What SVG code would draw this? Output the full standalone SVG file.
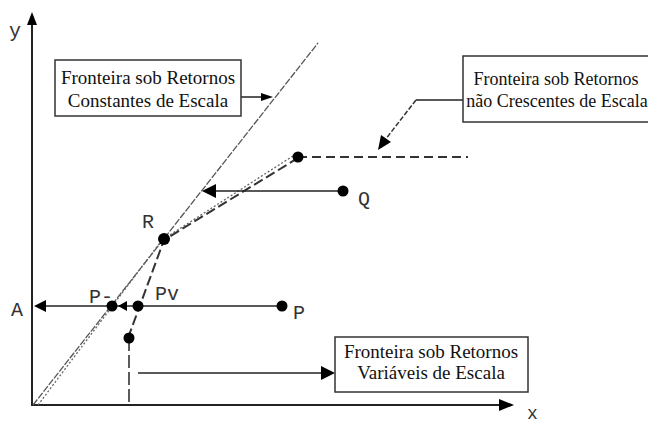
<svg xmlns="http://www.w3.org/2000/svg" width="648" height="425" viewBox="0 0 648 425">
<style>
.box{fill:#fff;stroke:#333;stroke-width:1.5}
.bt{font-family:"Liberation Serif","Times New Roman",serif;font-size:19px;fill:#111;text-anchor:middle}
.lb{font-family:"Liberation Mono","Courier New",monospace;font-size:20px;fill:#333}
.ax{stroke:#222;stroke-width:2;fill:none}
.ar{stroke:#222;stroke-width:1.5;fill:none}
.dot{fill:#000}
.tri{fill:#000}
</style>
<rect width="648" height="425" fill="#fff"/>
<g id="axes">
<line class="ax" x1="32" y1="406" x2="32" y2="22"/>
<polygon class="tri" points="32,12 27,25 37,25"/>
<line class="ax" x1="31" y1="405" x2="502" y2="405"/>
<polygon class="tri" points="514,405 499,399 499,411"/>
<text class="lb" x="9" y="37">y</text>
<text class="lb" x="527" y="419" style="font-size:18px">x</text>
</g>
<g id="connectors">
<line x1="33" y1="405" x2="318" y2="43" stroke="#555" stroke-width="1.3" stroke-dasharray="7 1.5"/>
<polyline points="38,405 162,240 296,154" fill="none" stroke="#666" stroke-width="1.3" stroke-dasharray="2 2"/>
<polyline points="128,338 164,240 298,158" fill="none" stroke="#333" stroke-width="2" stroke-dasharray="10 4"/>
<line x1="298" y1="157" x2="468" y2="157" stroke="#333" stroke-width="2" stroke-dasharray="9 5"/>
<line x1="129" y1="338" x2="129" y2="405" stroke="#333" stroke-width="1.6" stroke-dasharray="13 4"/>
<line class="ar" x1="343" y1="191" x2="214" y2="191"/>
<polygon class="tri" points="202,191 216,184 216,198"/>
<line class="ar" x1="282" y1="306" x2="44" y2="306"/>
<polygon class="tri" points="34,306 46,300 46,312"/>
<polygon class="tri" points="118,306 127,301 127,311"/>
<line class="ar" x1="241" y1="97" x2="262" y2="97"/>
<polygon class="tri" points="273,97 261,93 261,101"/>
<line class="ar" x1="463" y1="100" x2="416" y2="100"/>
<line x1="416" y1="100" x2="385" y2="140" stroke="#333" stroke-width="1.5" stroke-dasharray="5 2"/>
<polygon class="tri" points="378,150 381,135 391,142"/>
<line class="ar" x1="138" y1="373" x2="322" y2="373"/>
<polygon class="tri" points="335,373 321,366 321,380"/>
</g>
<g id="R"><circle class="dot" cx="164" cy="239" r="6"/><text class="lb" x="142" y="228">R</text></g>
<g id="Q"><circle class="dot" cx="343" cy="191" r="5.5"/><text class="lb" x="358" y="205">Q</text></g>
<g id="P"><circle class="dot" cx="282" cy="306" r="5.5"/><text class="lb" x="293" y="319">P</text></g>
<g id="A"><text class="lb" x="11" y="316">A</text></g>
<g id="Pc"><circle class="dot" cx="112" cy="306" r="5.5"/><text class="lb" x="89" y="303">P-</text></g>
<g id="Pv"><circle class="dot" cx="138" cy="306" r="5.5"/><text class="lb" x="155" y="300">Pv</text></g>
<g id="V"><circle class="dot" cx="129" cy="338" r="5.5"/></g>
<g id="NIRSpt"><circle class="dot" cx="298" cy="157" r="5.5"/></g>
<g id="box-crs">
<rect class="box" x="55" y="60" width="186" height="56"/>
<text class="bt" x="148" y="84">Fronteira sob Retornos</text>
<text class="bt" x="148" y="107">Constantes de Escala</text>
</g>
<g id="box-nirs">
<rect class="box" x="463" y="56" width="200" height="66"/>
<text class="bt" x="556" y="85" style="font-size:18px">Fronteira sob Retornos</text>
<text class="bt" x="557" y="107" style="font-size:18px">não Crescentes de Escala</text>
</g>
<g id="box-vrs">
<rect class="box" x="335" y="337" width="193" height="55"/>
<text class="bt" x="431" y="358">Fronteira sob Retornos</text>
<text class="bt" x="431" y="379">Variáveis de Escala</text>
</g>
</svg>
